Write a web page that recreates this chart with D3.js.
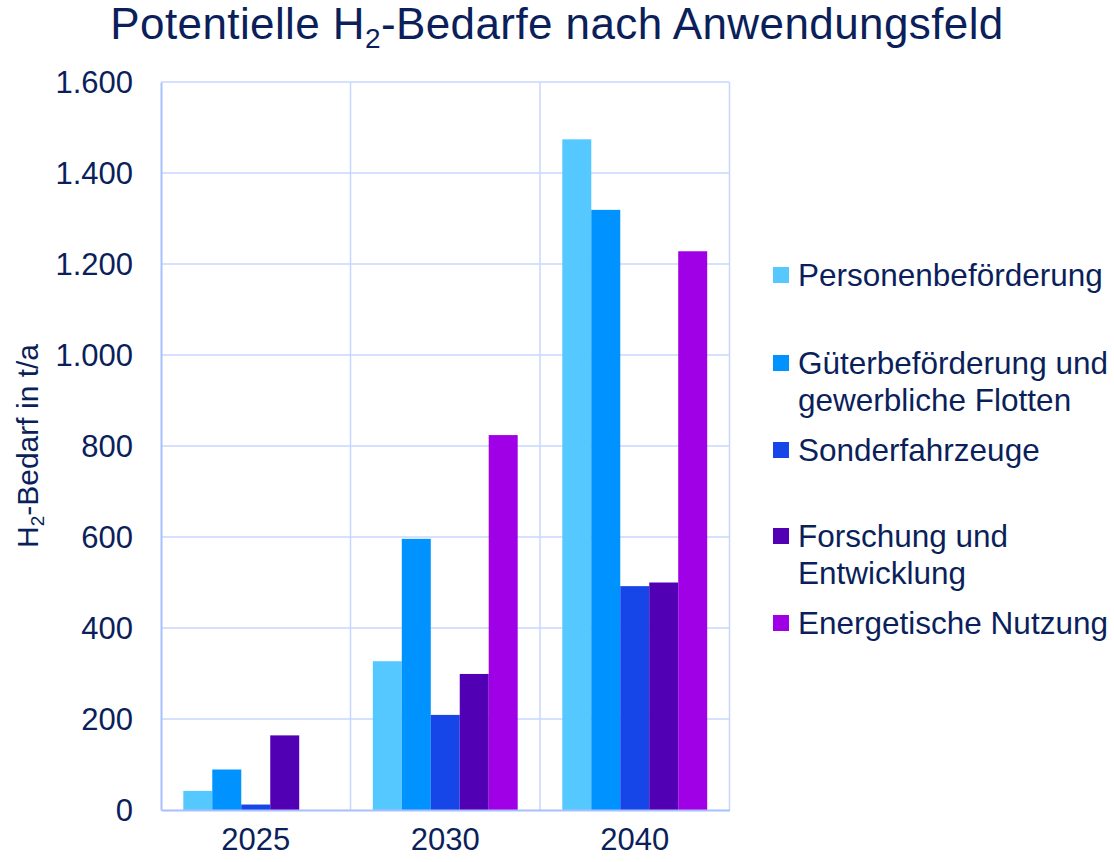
<!DOCTYPE html>
<html>
<head>
<meta charset="utf-8">
<script src="https://cdn.jsdelivr.net/npm/d3@7"></script>
<style>
  body { margin: 0; background: #fff; }
  text { font-family: "Liberation Sans", Arial, sans-serif; fill: #0b1f5b; }
</style>
</head>
<body>
<div id="chart"></div>
<script>
var years = ["2025", "2030", "2040"];
var seriesNames = ["Personenbeförderung", "Güterbeförderung und gewerbliche Flotten",
  "Sonderfahrzeuge", "Forschung und Entwicklung", "Energetische Nutzung"];
var legendLines = [["Personenbeförderung"], ["Güterbeförderung und", "gewerbliche Flotten"],
  ["Sonderfahrzeuge"], ["Forschung und", "Entwicklung"], ["Energetische Nutzung"]];
var personen = [42, 327, 1474];
var gueter = [89, 596, 1319];
var sonder = [12, 209, 492];
var forschung = [164, 299, 500];
var energie = [0, 824, 1228];
var yTicks = [0, 200, 400, 600, 800, 1000, 1200, 1400, 1600];
var colors = ["#55c8ff", "#0092ff", "#1645e8", "#5200b4", "#a000e6"];

var allValues = [personen, gueter, sonder, forschung, energie];

var margin = {top: 82, left: 161},
  width = 568.5,
  height = 728;

var de = d3.formatLocale({decimal: ",", thousands: ".", grouping: [3], currency: ["", "€"]});
var fmt = de.format(",d");

var svg = d3.select("#chart").append("svg")
    .attr("width", 1114)
    .attr("height", 862);

// title
var title = svg.append("text")
    .attr("x", 557)
    .attr("y", 39)
    .attr("text-anchor", "middle")
    .style("font-size", "44px")
    .style("letter-spacing", "0.4px");
title.append("tspan").text("Potentielle H");
title.append("tspan").attr("dy", 9).style("font-size", "28px").text("2");
title.append("tspan").attr("dy", -9).text("-Bedarfe nach Anwendungsfeld");

var g = svg.append("g")
    .attr("transform", "translate(" + margin.left + "," + margin.top + ")");

var x0 = d3.scaleBand().domain(years).range([0, width]).padding(0);
var x1 = d3.scaleBand().domain(d3.range(seriesNames.length))
    .range([0, x0.bandwidth()]).paddingInner(0).paddingOuter(0.77);
var y = d3.scaleLinear().domain([0, 1600]).range([height, 0]);

// horizontal grid
g.append("g").selectAll("line")
    .data(yTicks.slice(1))
  .enter().append("line")
    .attr("x1", 0).attr("x2", width)
    .attr("y1", function(d) { return y(d); })
    .attr("y2", function(d) { return y(d); })
    .attr("stroke", "#c8d7ff")
    .attr("stroke-width", 1.5);

// vertical grid
g.append("g").selectAll("line")
    .data(years.slice(1).concat(["end"]))
  .enter().append("line")
    .attr("x1", function(d) { return d === "end" ? width : x0(d); })
    .attr("x2", function(d) { return d === "end" ? width : x0(d); })
    .attr("y1", 0).attr("y2", height)
    .attr("stroke", "#c8d7ff")
    .attr("stroke-width", 1.5);

// bars
allValues.forEach(function(vals, i) {
  g.append("g").selectAll("rect")
      .data(vals)
    .enter().append("rect")
      .attr("x", function(d, j) { return x0(years[j]) + x1(i); })
      .attr("y", function(d) { return y(d); })
      .attr("width", x1.bandwidth())
      .attr("height", function(d) { return height - y(d); })
      .attr("fill", colors[i]);
});

// axes
var yAxis = g.append("g")
    .call(d3.axisLeft(y).tickValues(yTicks).tickFormat(fmt).tickSize(0).tickPadding(28));
yAxis.select(".domain").attr("stroke", "#a9c0ff").attr("stroke-width", 2);
yAxis.selectAll("text").style("font-size", "31px").attr("fill", "#0b1f5b").attr("dy", "0.35em")
    .style("font-family", "'Liberation Sans', Arial, sans-serif");

var xAxis = g.append("g")
    .attr("transform", "translate(0," + height + ")")
    .call(d3.axisBottom(x0).tickSize(0).tickPadding(18));
xAxis.select(".domain").attr("stroke", "#a9c0ff").attr("stroke-width", 2);
xAxis.selectAll("text").style("font-size", "31px").attr("fill", "#0b1f5b")
    .style("font-family", "'Liberation Sans', Arial, sans-serif");

// y axis title
var yTitle = svg.append("text")
    .attr("transform", "translate(38,446) rotate(-90)")
    .attr("text-anchor", "middle")
    .style("font-size", "30px");
yTitle.append("tspan").text("H");
yTitle.append("tspan").attr("dy", 6).style("font-size", "19px").text("2");
yTitle.append("tspan").attr("dy", -6).text("-Bedarf in t/a");

// legend
var legendY = [275, 363, 450, 536, 623];
var legend = svg.append("g").selectAll("g")
    .data(seriesNames)
  .enter().append("g")
    .attr("transform", function(d, i) { return "translate(773," + legendY[i] + ")"; });

legend.append("rect")
    .attr("x", 0).attr("y", -8)
    .attr("width", 16).attr("height", 16)
    .attr("fill", function(d, i) { return colors[i]; });

legend.append("text")
    .attr("x", 25)
    .attr("y", 11)
    .style("font-size", "31.5px")
  .selectAll("tspan")
    .data(function(d, i) { return legendLines[i]; })
  .enter().append("tspan")
    .attr("x", 25)
    .attr("dy", function(d, k) { return k === 0 ? 0 : 37; })
    .text(function(d) { return d; });
</script>
</body>
</html>
